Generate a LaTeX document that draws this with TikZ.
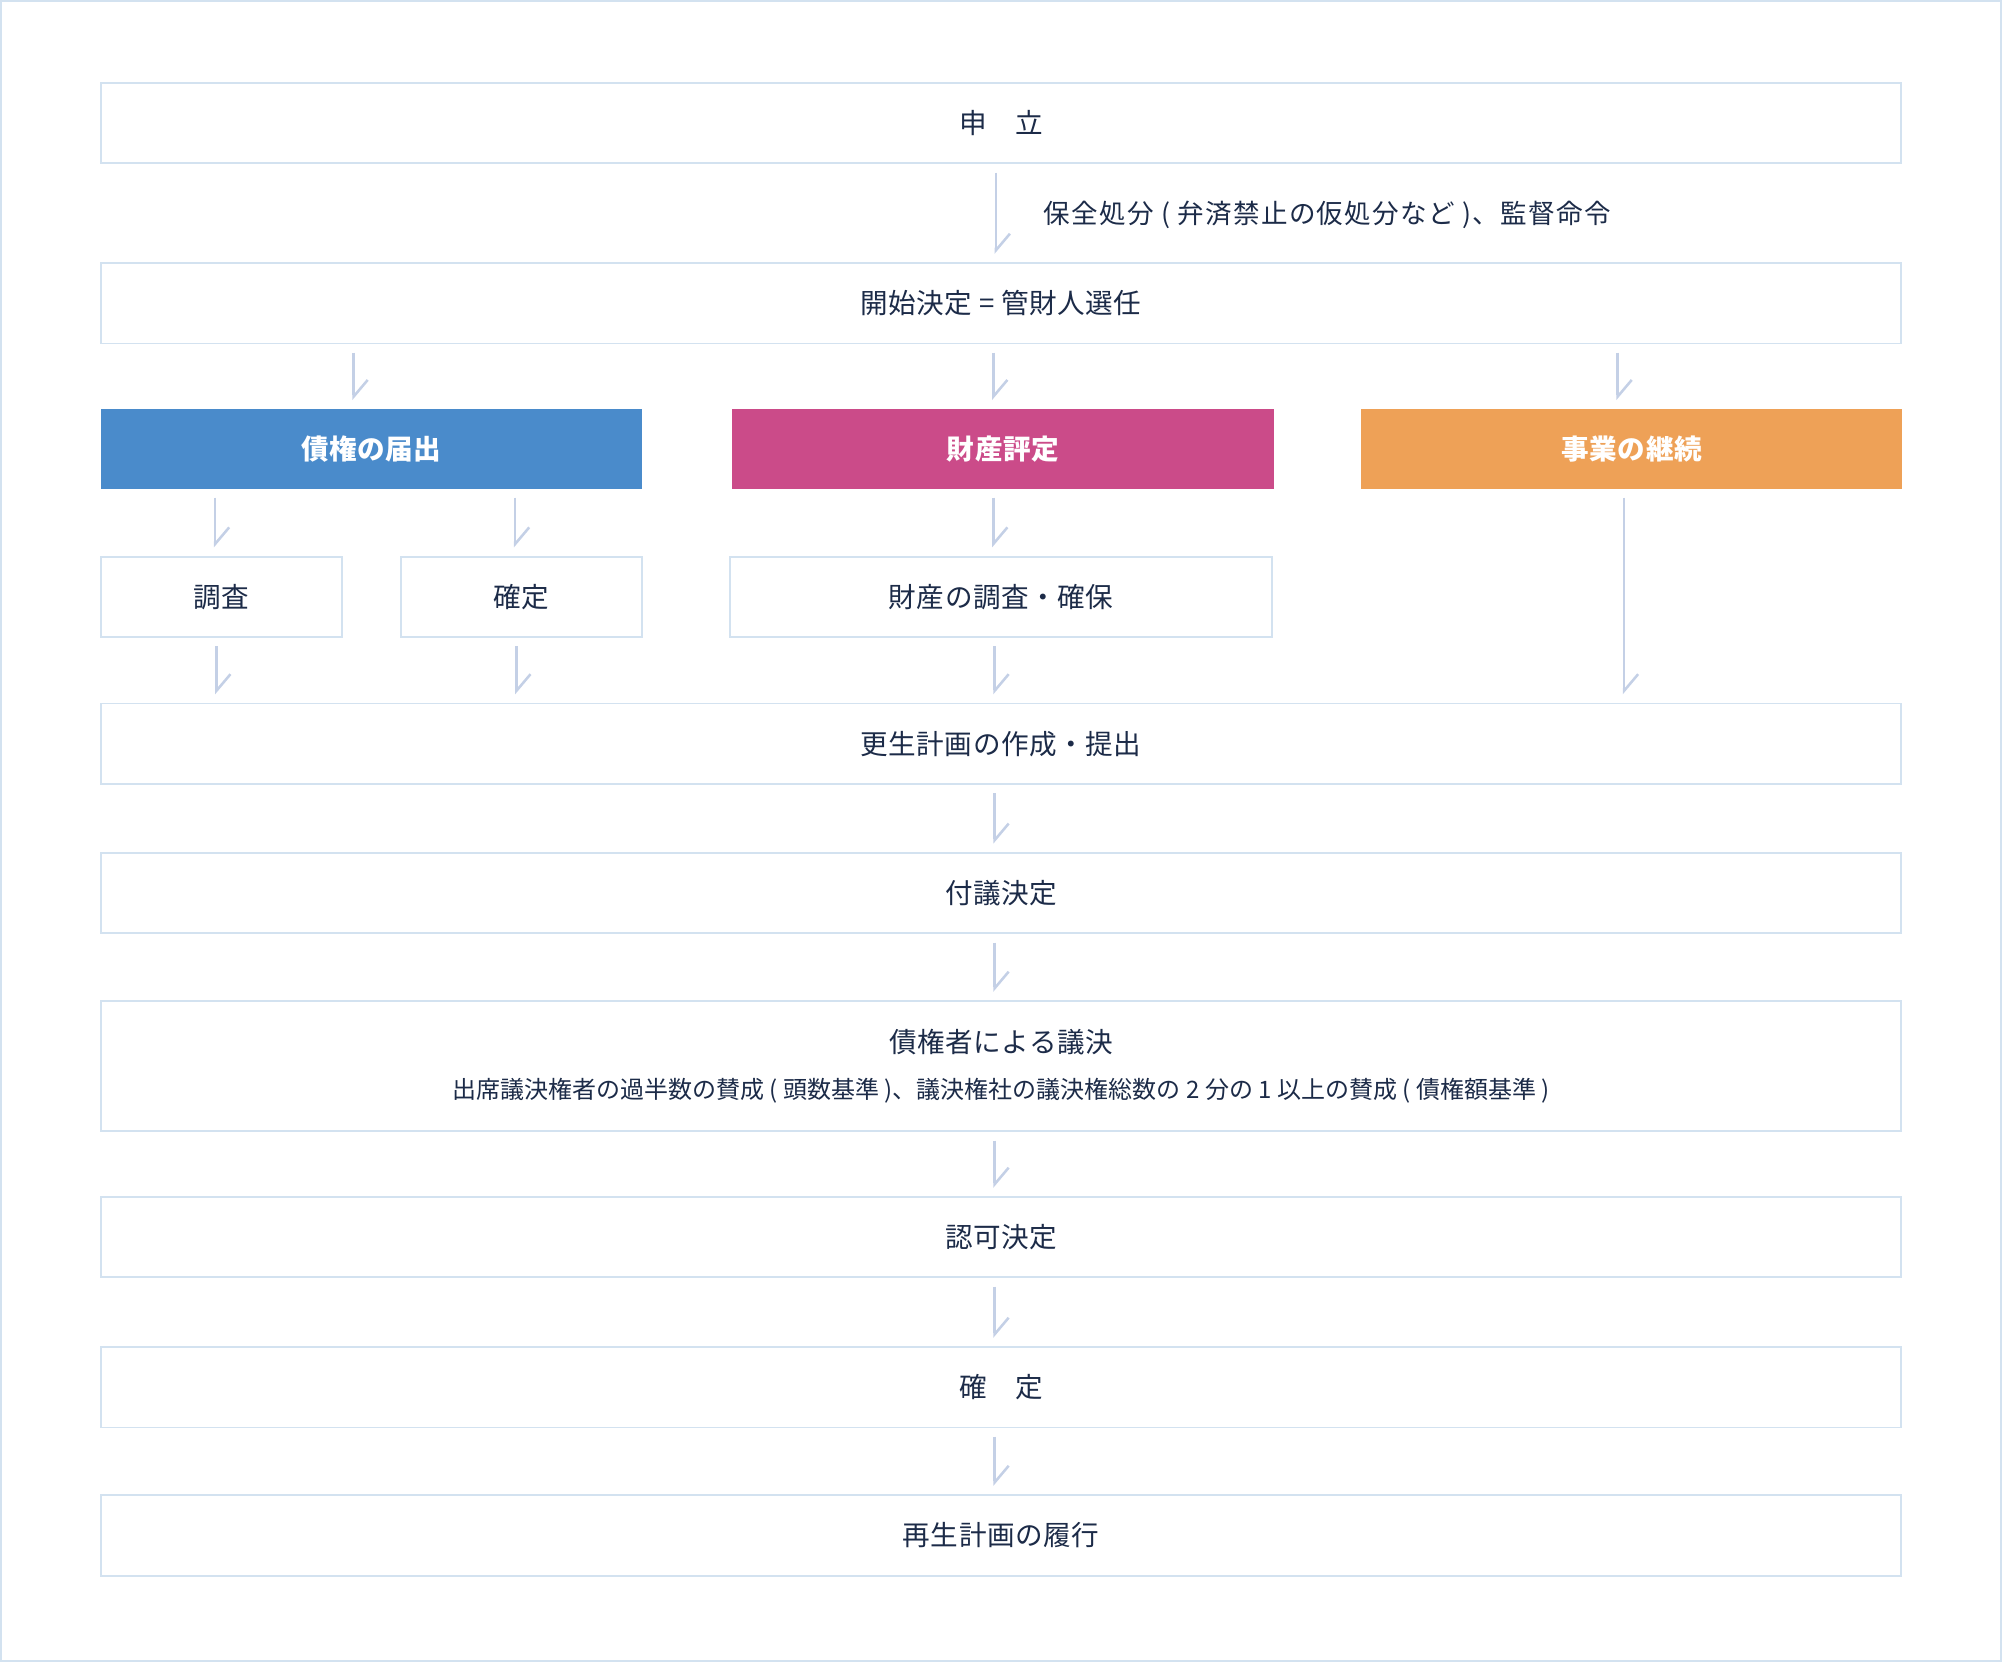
\documentclass[tikz,border=0pt]{standalone}
\usepackage{fontspec}
\setmainfont{Noto Sans CJK JP}[LetterSpace=2]
\newfontfamily\notefont{Noto Sans CJK JP}
\newfontfamily\labelfont{Noto Sans CJK JP}[LetterSpace=5]
\usetikzlibrary{arrows.meta}
\definecolor{lineblue}{HTML}{D3E2F0}
\definecolor{arrowgray}{HTML}{C4D0E6}
\definecolor{textnavy}{HTML}{1C2B48}
\definecolor{claimblue}{HTML}{4A8BCB}
\definecolor{assetpink}{HTML}{CB4B89}
\definecolor{bizorange}{HTML}{EEA157}

\begin{document}
\begin{tikzpicture}[x=1pt,y=-1pt,
  flowbox/.style={draw=lineblue,line width=1.5pt,fill=white,text=textnavy,
    minimum height=63pt,inner sep=0pt,font=\fontsize{21.6}{26}\selectfont},
  widebox/.style={flowbox,minimum width=1410pt},
  headbox/.style={minimum width=424pt,minimum height=63pt,inner sep=0pt,
    text=white,font=\fontsize{21.6}{26}\selectfont\bfseries},
  arr/.style={draw=arrowgray,line width=2pt,shorten <=6.5pt,shorten >=6.5pt,
    -{Straight Barb[harpoon,length=13pt,width=22pt]}}]
\useasboundingbox (0,0) rectangle (1568,1302);
\draw[lineblue,line width=1.5pt] (0.75,0.75) rectangle (1567.25,1301.25);

% main column
\node [widebox] (moushi) at (784,96.5) {申　立};
\node [widebox] (kaishi) at (784,237.5) {開始決定 = 管財人選任};
\node [headbox,fill=claimblue] (saiken) at (291,351.5) {債権の届出};
\node [headbox,fill=assetpink,minimum width=425pt] (zaisan) at (785.5,351.5) {財産評定};
\node [headbox,fill=bizorange] (jigyou) at (1278,351.5) {事業の継続};
\node [flowbox,minimum width=189pt] (chousa) at (173.5,467.5) {調査};
\node [flowbox,minimum width=189pt] (kakutei) at (408.5,467.5) {確定};
\node [flowbox,minimum width=424pt] (kakuho) at (784,467.5) {財産の調査・確保};
\node [widebox] (keikaku) at (784,582.5) {更生計画の作成・提出};
\node [widebox] (fugi) at (784,699.5) {付議決定};
\node [widebox,minimum height=102pt,align=center] (giketsu) at (784,835)
  {債権者による議決\\[10pt]{\notefont\fontsize{18.8}{23}\selectfont 出席議決権者の過半数の賛成 ( 頭数基準 )、議決権社の議決権総数の 2 分の 1 以上の賛成 ( 債権額基準 )}};
\node [widebox] (ninka) at (784,969) {認可決定};
\node [widebox] (kakutei2) at (784,1086.5) {確　定};
\node [widebox] (rikou) at (784,1202.5) {再生計画の履行};

\node [anchor=west,text=textnavy,font=\labelfont\fontsize{20.8}{25}\selectfont] (hozen) at (814,168)
  {保全処分 ( 弁済禁止の仮処分など )、監督命令};

% arrows
\draw [arr] ([xshift=-4pt]moushi.south) -- ([xshift=-4pt]kaishi.north);
\draw [arr] ([xshift=-14pt]saiken.north |- kaishi.south) -- ([xshift=-14pt]saiken.north);
\draw [arr] ([xshift=-7.5pt]zaisan.north |- kaishi.south) -- ([xshift=-7.5pt]zaisan.north);
\draw [arr] ([xshift=-11pt]jigyou.north |- kaishi.south) -- ([xshift=-11pt]jigyou.north);
\draw [arr] ([xshift=-5pt]chousa.north |- saiken.south) -- ([xshift=-5pt]chousa.north);
\draw [arr] ([xshift=-5pt]kakutei.north |- saiken.south) -- ([xshift=-5pt]kakutei.north);
\draw [arr] ([xshift=-6pt]kakuho.north |- zaisan.south) -- ([xshift=-6pt]kakuho.north);
\draw [arr] ([xshift=-6pt]jigyou.south) -- ([xshift=-6pt]jigyou.south |- keikaku.north);
\draw [arr] ([xshift=-4pt]chousa.south) -- ([xshift=-4pt]chousa.south |- keikaku.north);
\draw [arr] ([xshift=-4pt]kakutei.south) -- ([xshift=-4pt]kakutei.south |- keikaku.north);
\draw [arr] ([xshift=-5pt]kakuho.south) -- ([xshift=-5pt]kakuho.south |- keikaku.north);
\draw [arr] ([xshift=-5pt]keikaku.south) -- ([xshift=-5pt]fugi.north);
\draw [arr] ([xshift=-5pt]fugi.south) -- ([xshift=-5pt]giketsu.north);
\draw [arr] ([xshift=-5pt]giketsu.south) -- ([xshift=-5pt]ninka.north);
\draw [arr] ([xshift=-5pt]ninka.south) -- ([xshift=-5pt]kakutei2.north);
\draw [arr] ([xshift=-5pt]kakutei2.south) -- ([xshift=-5pt]rikou.north);
\end{tikzpicture}
\end{document}
